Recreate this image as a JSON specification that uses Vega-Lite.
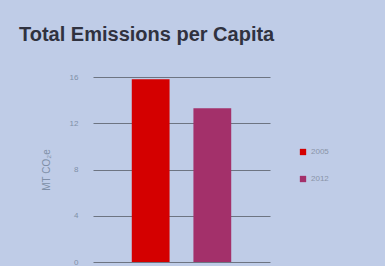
{
  "$schema": "https://vega.github.io/schema/vega-lite/v6.json",
  "width": 177,
  "height": 185,
  "autosize": "none",
  "padding": {"left": 93, "top": 77, "right": 115, "bottom": 4},
  "background": "#bfcce7",
  "title": {
    "text": "Total Emissions per Capita",
    "anchor": "start",
    "frame": "group",
    "dx": -74,
    "offset": 28,
    "fontSize": 20,
    "fontWeight": "bold",
    "font": "Liberation Sans",
    "color": "#30323f"
  },
  "data": {
    "values": [
      {"year": "2005", "value": 15.8},
      {"year": "2012", "value": 13.3}
    ]
  },
  "mark": {"type": "bar"},
  "encoding": {
    "x": {
      "field": "year",
      "type": "nominal",
      "axis": null,
      "scale": {"paddingInner": 0.387, "paddingOuter": 0.629}
    },
    "y": {
      "field": "value",
      "type": "quantitative",
      "scale": {"domain": [0, 16]},
      "axis": {
        "values": [0, 4, 8, 12, 16],
        "title": "MT CO₂e",
        "titleFontSize": 10,
        "titleFontWeight": "normal",
        "titleColor": "#8090a8",
        "titlePadding": 18,
        "labelFontSize": 8,
        "labelColor": "#8090a8",
        "labelPadding": 15,
        "domain": false,
        "ticks": false,
        "gridColor": "#6d7482",
        "gridOpacity": 1,
        "gridWidth": 1.2
      }
    },
    "color": {
      "field": "year",
      "type": "nominal",
      "scale": {"domain": ["2005", "2012"], "range": ["#d40000", "#a3306a"]},
      "legend": {
        "title": null,
        "orient": "none",
        "legendX": 206,
        "legendY": 71,
        "symbolType": "square",
        "symbolSize": 40,
        "labelFontSize": 8,
        "labelColor": "#8a94a8",
        "rowPadding": 19
      }
    }
  },
  "config": {"view": {"stroke": null}}
}
